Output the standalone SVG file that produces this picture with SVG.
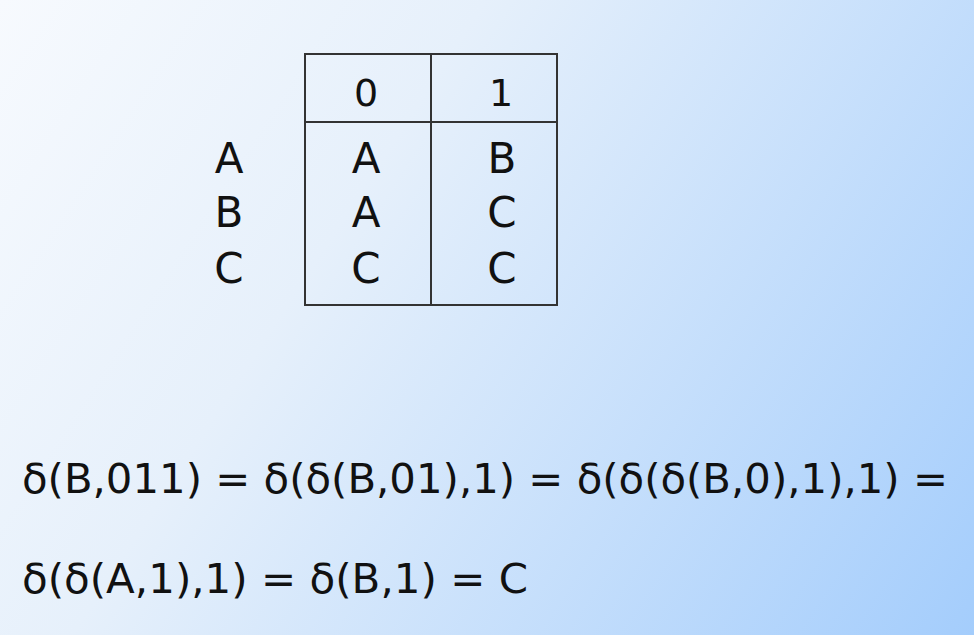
<svg xmlns="http://www.w3.org/2000/svg" width="974" height="635" viewBox="0 0 974 635">
<defs>
<linearGradient id="bg" x1="0" y1="0" x2="974" y2="635" gradientUnits="userSpaceOnUse">
<stop offset="0" stop-color="#f7fafe"/>
<stop offset="0.35" stop-color="#e6f0fb"/>
<stop offset="1" stop-color="#a4cdfc"/>
</linearGradient>
<style>
.t{font-family:"DejaVu Sans","Verdana",sans-serif;font-size:42px;fill:#111;text-anchor:middle}
.h{font-family:"DejaVu Sans","Verdana",sans-serif;font-size:38px;fill:#111;text-anchor:middle}
.eq{font-family:"DejaVu Sans","Verdana",sans-serif;font-size:41px;fill:#111}
.ln{stroke:#333;stroke-width:2;fill:none}
</style>
</defs>
<rect width="974" height="635" fill="url(#bg)"/>
<g id="table">
<rect class="ln" x="305" y="54" width="252" height="251"/>
<line class="ln" x1="431" y1="54" x2="431" y2="305"/>
<line class="ln" x1="305" y1="122" x2="557" y2="122"/>
<text class="h" x="366" y="106">0</text>
<text class="h" x="501" y="106">1</text>
<text class="t" x="366" y="173">A</text>
<text class="t" x="502" y="173">B</text>
<text class="t" x="366" y="227">A</text>
<text class="t" x="502" y="227">C</text>
<text class="t" x="366" y="283">C</text>
<text class="t" x="502" y="283">C</text>
</g>
<g id="rowlabels">
<text class="t" x="229" y="173">A</text>
<text class="t" x="229" y="227">B</text>
<text class="t" x="229" y="283">C</text>
</g>
<g id="equations">
<text class="eq" x="22" y="493" textLength="926" lengthAdjust="spacingAndGlyphs">δ(B,011) = δ(δ(B,01),1) = δ(δ(δ(B,0),1),1) =</text>
<text class="eq" x="22" y="593" textLength="506" lengthAdjust="spacingAndGlyphs">δ(δ(A,1),1) = δ(B,1) = C</text>
</g>
</svg>
